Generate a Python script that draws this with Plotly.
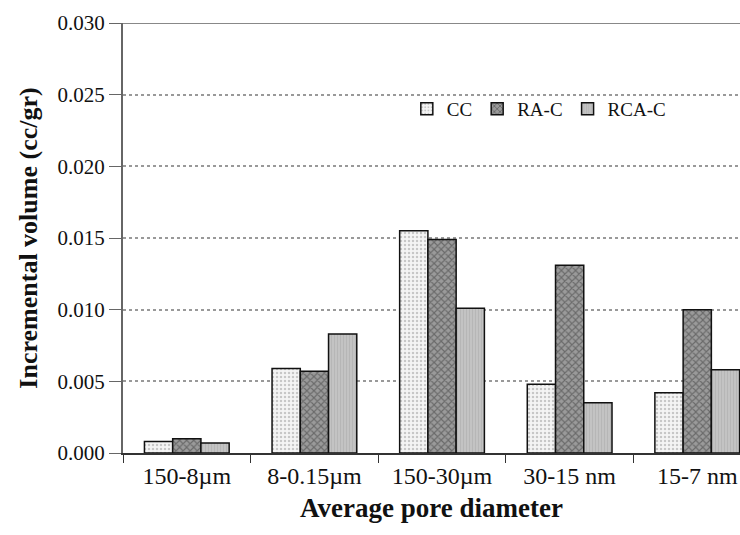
import plotly.graph_objects as go

categories = ["150-8µm", "8-0.15µm", "150-30µm", "30-15 nm", "15-7 nm"]
cc = [0.0008, 0.0059, 0.0155, 0.0048, 0.0042]
rac = [0.0010, 0.0057, 0.0149, 0.0131, 0.0100]
rcac = [0.0007, 0.0083, 0.0101, 0.0035, 0.0058]
yticks = [0.000, 0.005, 0.010, 0.015, 0.020, 0.025, 0.030]
ytick_text = ["0.000", "0.005", "0.010", "0.015", "0.020", "0.025", "0.030"]

FONT = "Liberation Serif"

fig = go.Figure()
fig.add_trace(go.Bar(
    name="CC", x=categories, y=cc,
    marker=dict(color="#f4f4f4", line=dict(color="#111", width=1.5),
                pattern=dict(shape=".", bgcolor="#f4f4f4", fgcolor="#9a9a9a", size=4, solidity=0.3)),
))
fig.add_trace(go.Bar(
    name="RA-C", x=categories, y=rac,
    marker=dict(color="#8a8a8a", line=dict(color="#111", width=1.5),
                pattern=dict(shape="x", bgcolor="#9a9a9a", fgcolor="#3a3a3a", size=5, solidity=0.4)),
))
fig.add_trace(go.Bar(
    name="RCA-C", x=categories, y=rcac,
    marker=dict(color="#bdbdbd", line=dict(color="#111", width=1.5),
                pattern=dict(shape="|", bgcolor="#c4c4c4", fgcolor="#a8a8a8", size=3, solidity=0.4)),
))

fig.add_shape(type="line", xref="paper", yref="y", x0=0, x1=1, y0=0.030, y1=0.030,
              line=dict(color="#888", width=2))

fig.add_annotation(text="<b>Average pore diameter</b>", xref="paper", yref="paper",
                   x=0.5, y=-0.128, xanchor="center", yanchor="middle", showarrow=False,
                   font=dict(family=FONT, size=27, color="#111"))

fig.update_layout(
    width=740, height=535,
    margin=dict(l=123, r=0, t=23, b=82),
    paper_bgcolor="white", plot_bgcolor="white",
    barmode="group", bargap=0.336, bargroupgap=0,
    font=dict(family=FONT, size=20, color="#111"),
    legend=dict(orientation="h", x=0.46, y=0.80, xanchor="left", yanchor="middle",
                font=dict(family=FONT, size=19, color="#111"),
                bgcolor="rgba(0,0,0,0)", itemwidth=30, tracegroupgap=0),
    xaxis=dict(
        range=[-0.5, 4.335],
        showline=True, linecolor="#333", linewidth=1.5,
        ticks="outside", tickson="boundaries", ticklen=8, tickcolor="#333",
        tickfont=dict(family=FONT, size=24, color="#111"),
        showgrid=False,
    ),
    yaxis=dict(
        range=[0, 0.030],
        tickvals=yticks, ticktext=ytick_text,
        showline=True, linecolor="#666", linewidth=2,
        ticks="outside", ticklen=12, tickcolor="#666",
        tickfont=dict(family=FONT, size=21, color="#111"),
        showgrid=True, gridcolor="#999", griddash="dot", gridwidth=1.5,
        zeroline=False,
        title=dict(text="Incremental volume (cc/gr)", standoff=12,
                   font=dict(family=FONT, size=26, color="#111", weight="bold")),
    ),
)

fig.write_html("out.html")
